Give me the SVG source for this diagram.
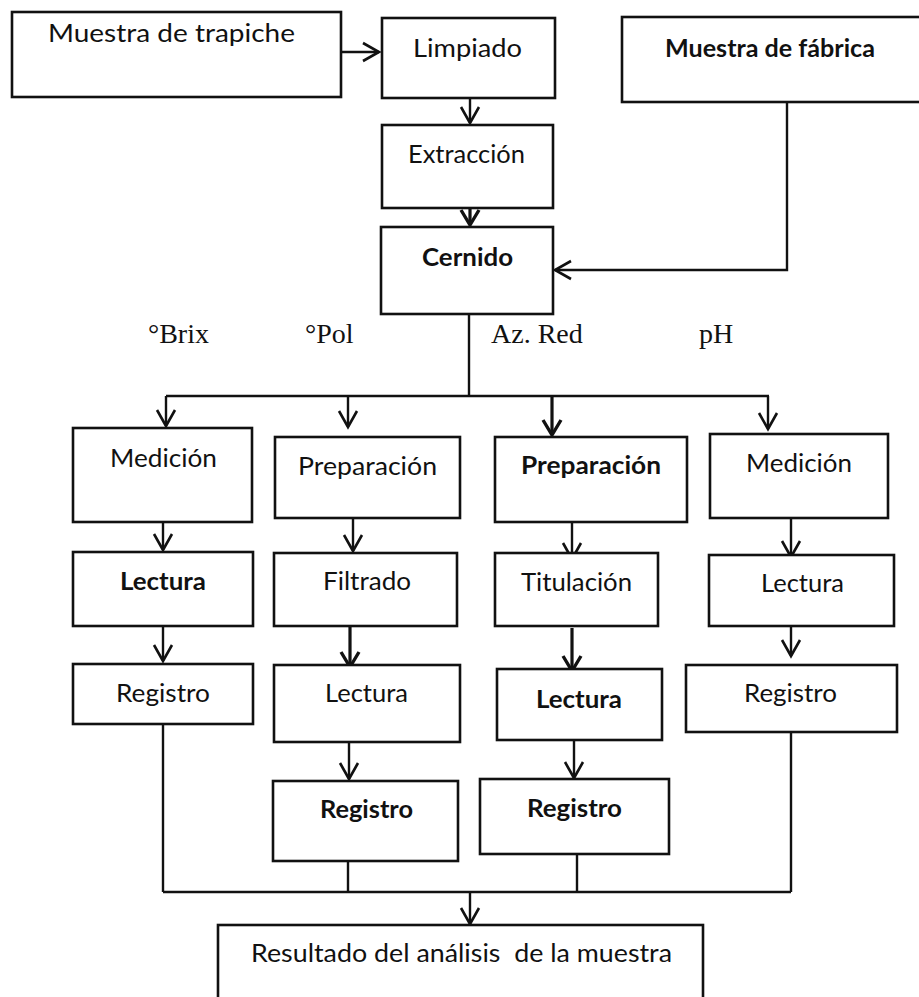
<svg xmlns="http://www.w3.org/2000/svg" width="919" height="997" viewBox="0 0 919 997">
<style>
.box{fill:#fff;stroke:#111;stroke-width:2.6}
.t{font-family:Lato,"Open Sans","Liberation Sans",sans-serif;font-size:25px;fill:#111}
.b{font-weight:700}
.s{font-family:"Liberation Serif","Times New Roman",serif;font-size:28px;fill:#111}
.c{fill:none;stroke:#111;stroke-width:2.4}
.k{stroke-width:3.2}
</style>
<defs>
<marker id="arr" viewBox="-20 -12 24 24" refX="0" refY="0" markerWidth="24" markerHeight="24" markerUnits="userSpaceOnUse" orient="auto">
<path d="M-16,-9 L0,0 L-16,9" fill="none" stroke="#111" stroke-width="2.6"/>
</marker>
<marker id="arrK" viewBox="-20 -12 24 24" refX="0" refY="0" markerWidth="24" markerHeight="24" markerUnits="userSpaceOnUse" orient="auto">
<path d="M-15,-9 L0,0 L-15,9" fill="none" stroke="#111" stroke-width="3.4"/>
</marker>
</defs>
<rect width="919" height="997" fill="#fff"/>
<g id="connectors">
<path class="c" d="M341,52 H379" marker-end="url(#arr)"/>
<path class="c" d="M470,98 V123" marker-end="url(#arr)"/>
<path class="c k" d="M470,198 V225" marker-end="url(#arrK)"/>
<path class="c" d="M787,102 V270 H555" marker-end="url(#arr)"/>
<path class="c" d="M469,314 V396"/>
<path class="c" d="M166,396 H769"/>
<path class="c" d="M166,396 V426" marker-end="url(#arr)"/>
<path class="c" d="M348,396 V427" marker-end="url(#arr)"/>
<path class="c k" d="M552,396 V435" marker-end="url(#arrK)"/>
<path class="c" d="M768,396 V429" marker-end="url(#arr)"/>
<path class="c" d="M163,522 V550" marker-end="url(#arr)"/>
<path class="c" d="M163,626 V661" marker-end="url(#arr)"/>
<path class="c" d="M163,724 V892"/>
<path class="c" d="M353,508 V551" marker-end="url(#arr)"/>
<path class="c k" d="M350,626 V667" marker-end="url(#arrK)"/>
<path class="c" d="M349,742 V779" marker-end="url(#arr)"/>
<path class="c" d="M348,861 V892"/>
<path class="c" d="M572,518 V559" marker-end="url(#arr)"/>
<path class="c k" d="M572,628 V671" marker-end="url(#arrK)"/>
<path class="c" d="M574,736 V778" marker-end="url(#arr)"/>
<path class="c" d="M577,854 V892"/>
<path class="c" d="M791,513 V557" marker-end="url(#arr)"/>
<path class="c" d="M791,613 V656" marker-end="url(#arr)"/>
<path class="c" d="M791,732 V892"/>
<path class="c" d="M163,892 H791"/>
<path class="c" d="M470,892 V924" marker-end="url(#arr)"/>
</g>
<g id="n-trapiche"><rect class="box" x="12" y="12" width="329" height="85"/><text class="t" x="48" y="42" textLength="247" lengthAdjust="spacingAndGlyphs">Muestra de trapiche</text></g>
<g id="n-limpiado"><rect class="box" x="382" y="18" width="173" height="80"/><text class="t" x="413" y="57" textLength="109" lengthAdjust="spacingAndGlyphs">Limpiado</text></g>
<g id="n-fabrica"><rect class="box" x="622" y="17" width="310" height="85"/><text class="t b" x="665" y="57" textLength="210" lengthAdjust="spacingAndGlyphs">Muestra de fábrica</text></g>
<g id="n-extraccion"><rect class="box" x="382" y="125" width="171" height="83"/><text class="t" x="408" y="163" textLength="117" lengthAdjust="spacingAndGlyphs">Extracción</text></g>
<g id="n-cernido"><rect class="box" x="381" y="227" width="172" height="87"/><text class="t b" x="422" y="266" textLength="91" lengthAdjust="spacingAndGlyphs">Cernido</text></g>
<g id="labels">
<text class="s" x="148" y="343">°Brix</text>
<text class="s" x="305" y="343">°Pol</text>
<text class="s" x="491" y="343">Az. Red</text>
<text class="s" x="699" y="343">pH</text>
</g>
<g id="n-medicion1"><rect class="box" x="73" y="428" width="179" height="94"/><text class="t" x="110" y="467" textLength="107" lengthAdjust="spacingAndGlyphs">Medición</text></g>
<g id="n-preparacion1"><rect class="box" x="275" y="437" width="185" height="81"/><text class="t" x="298" y="475" textLength="139" lengthAdjust="spacingAndGlyphs">Preparación</text></g>
<g id="n-preparacion2"><rect class="box" x="495" y="437" width="192" height="85"/><text class="t b" x="521" y="474" textLength="140" lengthAdjust="spacingAndGlyphs">Preparación</text></g>
<g id="n-medicion2"><rect class="box" x="710" y="434" width="178" height="84"/><text class="t" x="746" y="472" textLength="106" lengthAdjust="spacingAndGlyphs">Medición</text></g>
<g id="n-lectura1"><rect class="box" x="73" y="552" width="180" height="74"/><text class="t b" x="120" y="590" textLength="86" lengthAdjust="spacingAndGlyphs">Lectura</text></g>
<g id="n-filtrado"><rect class="box" x="274" y="553" width="183" height="73"/><text class="t" x="323" y="590" textLength="88" lengthAdjust="spacingAndGlyphs">Filtrado</text></g>
<g id="n-titulacion"><rect class="box" x="495" y="553" width="163" height="73"/><text class="t" x="521" y="591" textLength="111" lengthAdjust="spacingAndGlyphs">Titulación</text></g>
<g id="n-lectura4"><rect class="box" x="709" y="555" width="185" height="71"/><text class="t" x="761" y="592" textLength="83" lengthAdjust="spacingAndGlyphs">Lectura</text></g>
<g id="n-registro1"><rect class="box" x="73" y="664" width="180" height="60"/><text class="t" x="116" y="702" textLength="94" lengthAdjust="spacingAndGlyphs">Registro</text></g>
<g id="n-lectura2"><rect class="box" x="274" y="665" width="186" height="77"/><text class="t" x="325" y="702" textLength="83" lengthAdjust="spacingAndGlyphs">Lectura</text></g>
<g id="n-lectura3"><rect class="box" x="497" y="669" width="165" height="71"/><text class="t b" x="536" y="708" textLength="86" lengthAdjust="spacingAndGlyphs">Lectura</text></g>
<g id="n-registro4"><rect class="box" x="686" y="665" width="211" height="67"/><text class="t" x="744" y="702" textLength="93" lengthAdjust="spacingAndGlyphs">Registro</text></g>
<g id="n-registro2"><rect class="box" x="273" y="781" width="185" height="80"/><text class="t b" x="320" y="818" textLength="93" lengthAdjust="spacingAndGlyphs">Registro</text></g>
<g id="n-registro3"><rect class="box" x="480" y="779" width="189" height="75"/><text class="t b" x="527" y="817" textLength="95" lengthAdjust="spacingAndGlyphs">Registro</text></g>
<g id="n-resultado"><rect class="box" x="218" y="925" width="485" height="90"/><text class="t" x="251" y="962" textLength="421" lengthAdjust="spacingAndGlyphs" xml:space="preserve">Resultado del análisis  de la muestra</text></g>
</svg>
